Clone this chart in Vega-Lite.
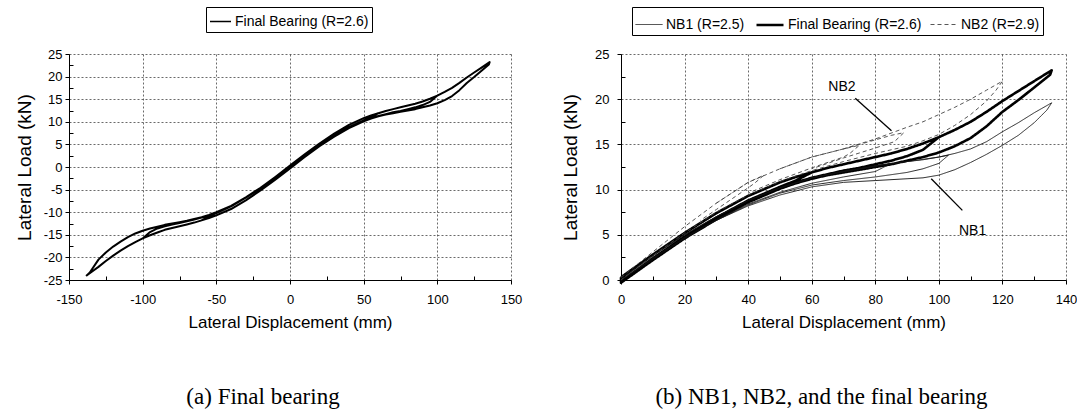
{
"$schema":"https://vega.github.io/schema/vega-lite/v6.json",
"autosize":{"type":"pad"},
"padding":{"left":15,"top":6,"right":0,"bottom":0},
"background":"#ffffff",
"bounds":"flush",
"spacing":110,
"datasets":{
"fb":[
{"x":0,"y":0.3},{"x":10,"y":2.8},{"x":20,"y":5.2},{"x":30,"y":7.4},{"x":40,"y":9.3},{"x":50,"y":10.8},{"x":55,"y":11.4},{"x":60,"y":11.9},
{"x":55,"y":11.0},{"x":50,"y":10.3},{"x":40,"y":8.8},{"x":30,"y":6.9},{"x":20,"y":4.8},{"x":10,"y":2.4},{"x":0,"y":-0.2},
{"x":-10,"y":-2.8},{"x":-20,"y":-5.2},{"x":-30,"y":-7.4},{"x":-40,"y":-9.3},{"x":-50,"y":-10.7},{"x":-55,"y":-11.3},{"x":-60,"y":-11.8},
{"x":-55,"y":-10.9},{"x":-50,"y":-10.2},{"x":-40,"y":-8.7},{"x":-30,"y":-6.8},{"x":-20,"y":-4.7},{"x":-10,"y":-2.3},{"x":0,"y":0.2},
{"x":10,"y":2.8},{"x":20,"y":5.2},{"x":30,"y":7.4},{"x":40,"y":9.3},{"x":50,"y":10.8},{"x":55,"y":11.4},{"x":60,"y":11.9},{"x":65,"y":12.4},{"x":70,"y":12.8},{"x":75,"y":13.2},{"x":80,"y":13.6},{"x":85,"y":14.0},{"x":90,"y":14.5},{"x":95,"y":15.1},{"x":100,"y":15.8},
{"x":95,"y":14.4},{"x":90,"y":13.7},{"x":85,"y":13.2},{"x":80,"y":12.8},{"x":75,"y":12.4},{"x":70,"y":12.1},{"x":65,"y":11.7},{"x":60,"y":11.3},{"x":55,"y":10.8},{"x":50,"y":10.2},{"x":40,"y":8.7},{"x":30,"y":6.8},{"x":20,"y":4.7},{"x":10,"y":2.3},{"x":0,"y":-0.2},
{"x":-10,"y":-2.8},{"x":-20,"y":-5.2},{"x":-30,"y":-7.4},{"x":-40,"y":-9.3},{"x":-50,"y":-10.7},{"x":-55,"y":-11.3},{"x":-60,"y":-11.8},{"x":-65,"y":-12.3},{"x":-70,"y":-12.7},{"x":-75,"y":-13.1},{"x":-80,"y":-13.5},{"x":-85,"y":-13.9},{"x":-90,"y":-14.5},{"x":-95,"y":-15.1},{"x":-100,"y":-15.8},
{"x":-95,"y":-14.4},{"x":-90,"y":-13.6},{"x":-85,"y":-13.1},{"x":-80,"y":-12.7},{"x":-75,"y":-12.4},{"x":-70,"y":-12.0},{"x":-65,"y":-11.6},{"x":-60,"y":-11.2},{"x":-55,"y":-10.7},{"x":-50,"y":-10.1},{"x":-40,"y":-8.7},{"x":-30,"y":-6.8},{"x":-20,"y":-4.7},{"x":-10,"y":-2.3},{"x":0,"y":0.2},
{"x":10,"y":2.8},{"x":20,"y":5.2},{"x":30,"y":7.4},{"x":40,"y":9.3},{"x":50,"y":10.8},{"x":55,"y":11.4},{"x":60,"y":11.9},{"x":65,"y":12.4},{"x":70,"y":12.8},{"x":75,"y":13.2},{"x":80,"y":13.6},{"x":85,"y":14.0},{"x":90,"y":14.5},{"x":95,"y":15.1},{"x":100,"y":15.8},{"x":105,"y":16.6},{"x":110,"y":17.5},{"x":115,"y":18.6},{"x":120,"y":19.8},{"x":125,"y":20.9},{"x":130,"y":22.0},{"x":135.5,"y":23.2},
{"x":135,"y":22.7},{"x":130,"y":21.3},{"x":125,"y":19.9},{"x":120,"y":18.6},{"x":115,"y":17.0},{"x":110,"y":15.7},{"x":105,"y":14.8},{"x":100,"y":14.1},{"x":95,"y":13.6},{"x":90,"y":13.2},{"x":85,"y":12.8},{"x":80,"y":12.5},{"x":75,"y":12.2},{"x":70,"y":11.9},{"x":65,"y":11.6},{"x":60,"y":11.2},{"x":55,"y":10.7},{"x":50,"y":10.1},{"x":40,"y":8.6},{"x":30,"y":6.7},{"x":20,"y":4.6},{"x":10,"y":2.2},{"x":0,"y":-0.3},
{"x":-10,"y":-2.8},{"x":-20,"y":-5.2},{"x":-30,"y":-7.4},{"x":-40,"y":-9.3},{"x":-50,"y":-10.7},{"x":-55,"y":-11.3},{"x":-60,"y":-11.8},{"x":-65,"y":-12.3},{"x":-70,"y":-12.7},{"x":-75,"y":-13.1},{"x":-80,"y":-13.5},{"x":-85,"y":-13.9},{"x":-90,"y":-14.5},{"x":-95,"y":-15.1},{"x":-100,"y":-15.8},{"x":-105,"y":-16.6},{"x":-110,"y":-17.5},{"x":-115,"y":-18.5},{"x":-120,"y":-19.6},{"x":-125,"y":-20.8},{"x":-130,"y":-22.1},{"x":-135,"y":-23.3},{"x":-138,"y":-24.0},
{"x":-136,"y":-23.4},{"x":-130,"y":-20.5},{"x":-125,"y":-18.9},{"x":-120,"y":-17.6},{"x":-115,"y":-16.5},{"x":-110,"y":-15.5},{"x":-105,"y":-14.7},{"x":-100,"y":-14.1},{"x":-95,"y":-13.6},{"x":-90,"y":-13.2},{"x":-85,"y":-12.8},{"x":-80,"y":-12.5},{"x":-75,"y":-12.2},{"x":-70,"y":-11.9},{"x":-65,"y":-11.5},{"x":-60,"y":-11.1},{"x":-55,"y":-10.6},{"x":-50,"y":-10.0},{"x":-40,"y":-8.6},{"x":-30,"y":-6.7},{"x":-20,"y":-4.6},{"x":-10,"y":-2.2},{"x":0,"y":0.3}
],
"nb":[
{"s":"NB1","c":1,"x":0,"y":0.2},{"s":"NB1","c":1,"x":10,"y":2.7},{"s":"NB1","c":1,"x":20,"y":5.0},{"s":"NB1","c":1,"x":30,"y":7.0},{"s":"NB1","c":1,"x":40,"y":8.8},{"s":"NB1","c":1,"x":50,"y":10.2},{"s":"NB1","c":1,"x":60,"y":11.3},{"s":"NB1","c":1,"x":70,"y":12.0},{"s":"NB1","c":1,"x":80,"y":12.6},{"s":"NB1","c":1,"x":85,"y":12.9},
{"s":"NB1","c":1,"x":80,"y":12.0},{"s":"NB1","c":1,"x":70,"y":11.4},{"s":"NB1","c":1,"x":60,"y":10.7},{"s":"NB1","c":1,"x":50,"y":9.7},{"s":"NB1","c":1,"x":40,"y":8.4},{"s":"NB1","c":1,"x":30,"y":6.7},{"s":"NB1","c":1,"x":20,"y":4.7},{"s":"NB1","c":1,"x":10,"y":2.4},{"s":"NB1","c":1,"x":0,"y":0},
{"s":"NB1","c":2,"x":60,"y":11.3},{"s":"NB1","c":2,"x":70,"y":12.0},{"s":"NB1","c":2,"x":80,"y":12.6},{"s":"NB1","c":2,"x":90,"y":13.1},{"s":"NB1","c":2,"x":95,"y":13.3},{"s":"NB1","c":2,"x":100,"y":13.6},{"s":"NB1","c":2,"x":103,"y":13.8},
{"s":"NB1","c":2,"x":100,"y":12.9},{"s":"NB1","c":2,"x":95,"y":12.3},{"s":"NB1","c":2,"x":90,"y":11.9},{"s":"NB1","c":2,"x":80,"y":11.4},{"s":"NB1","c":2,"x":70,"y":11.0},{"s":"NB1","c":2,"x":60,"y":10.5},{"s":"NB1","c":2,"x":50,"y":9.6},{"s":"NB1","c":2,"x":40,"y":8.3},{"s":"NB1","c":2,"x":30,"y":6.6},
{"s":"NB1","c":3,"x":0,"y":0.2},{"s":"NB1","c":3,"x":10,"y":2.7},{"s":"NB1","c":3,"x":20,"y":5.0},{"s":"NB1","c":3,"x":30,"y":7.0},{"s":"NB1","c":3,"x":40,"y":8.8},{"s":"NB1","c":3,"x":50,"y":10.2},{"s":"NB1","c":3,"x":60,"y":11.3},{"s":"NB1","c":3,"x":70,"y":12.0},{"s":"NB1","c":3,"x":80,"y":12.6},{"s":"NB1","c":3,"x":90,"y":13.1},{"s":"NB1","c":3,"x":100,"y":13.6},{"s":"NB1","c":3,"x":105,"y":14.0},{"s":"NB1","c":3,"x":110,"y":14.5},{"s":"NB1","c":3,"x":115,"y":15.3},{"s":"NB1","c":3,"x":120,"y":16.4},{"s":"NB1","c":3,"x":125,"y":17.4},{"s":"NB1","c":3,"x":130,"y":18.5},{"s":"NB1","c":3,"x":135.5,"y":19.6},
{"s":"NB1","c":3,"x":134,"y":18.8},{"s":"NB1","c":3,"x":130,"y":17.4},{"s":"NB1","c":3,"x":125,"y":16.0},{"s":"NB1","c":3,"x":120,"y":14.9},{"s":"NB1","c":3,"x":115,"y":13.9},{"s":"NB1","c":3,"x":110,"y":13.0},{"s":"NB1","c":3,"x":105,"y":12.2},{"s":"NB1","c":3,"x":100,"y":11.6},{"s":"NB1","c":3,"x":95,"y":11.3},{"s":"NB1","c":3,"x":90,"y":11.2},{"s":"NB1","c":3,"x":80,"y":11.0},{"s":"NB1","c":3,"x":70,"y":10.8},{"s":"NB1","c":3,"x":60,"y":10.3},{"s":"NB1","c":3,"x":50,"y":9.4},{"s":"NB1","c":3,"x":40,"y":8.2},{"s":"NB1","c":3,"x":30,"y":6.6},{"s":"NB1","c":3,"x":20,"y":4.6},{"s":"NB1","c":3,"x":10,"y":2.3},{"s":"NB1","c":3,"x":0,"y":0},
{"s":"NB2","c":4,"x":30,"y":8.5},{"s":"NB2","c":4,"x":40,"y":10.8},{"s":"NB2","c":4,"x":45,"y":11.6},
{"s":"NB2","c":4,"x":42,"y":10.7},{"s":"NB2","c":4,"x":40,"y":10.2},{"s":"NB2","c":4,"x":30,"y":7.8},{"s":"NB2","c":4,"x":25,"y":6.6},
{"s":"NB2","c":5,"x":50,"y":12.3},{"s":"NB2","c":5,"x":60,"y":13.6},{"s":"NB2","c":5,"x":70,"y":14.5},{"s":"NB2","c":5,"x":75,"y":14.9},
{"s":"NB2","c":5,"x":72,"y":14.0},{"s":"NB2","c":5,"x":70,"y":13.6},{"s":"NB2","c":5,"x":60,"y":12.4},{"s":"NB2","c":5,"x":50,"y":11.1},{"s":"NB2","c":5,"x":40,"y":9.6},
{"s":"NB2","c":6,"x":70,"y":14.5},{"s":"NB2","c":6,"x":80,"y":15.5},{"s":"NB2","c":6,"x":85,"y":16.0},{"s":"NB2","c":6,"x":89,"y":16.3},
{"s":"NB2","c":6,"x":86,"y":15.3},{"s":"NB2","c":6,"x":80,"y":14.6},{"s":"NB2","c":6,"x":70,"y":13.5},{"s":"NB2","c":6,"x":60,"y":12.3},
{"s":"NB2","c":7,"x":0,"y":0.3},{"s":"NB2","c":7,"x":10,"y":3.1},{"s":"NB2","c":7,"x":20,"y":5.9},{"s":"NB2","c":7,"x":30,"y":8.5},{"s":"NB2","c":7,"x":40,"y":10.8},{"s":"NB2","c":7,"x":50,"y":12.3},{"s":"NB2","c":7,"x":60,"y":13.6},{"s":"NB2","c":7,"x":70,"y":14.5},{"s":"NB2","c":7,"x":80,"y":15.6},{"s":"NB2","c":7,"x":90,"y":16.9},{"s":"NB2","c":7,"x":95,"y":17.5},{"s":"NB2","c":7,"x":100,"y":18.3},{"s":"NB2","c":7,"x":105,"y":19.1},{"s":"NB2","c":7,"x":110,"y":20.0},{"s":"NB2","c":7,"x":115,"y":21.0},{"s":"NB2","c":7,"x":120,"y":22.0},
{"s":"NB2","c":7,"x":118,"y":21.0},{"s":"NB2","c":7,"x":115,"y":19.8},{"s":"NB2","c":7,"x":110,"y":18.3},{"s":"NB2","c":7,"x":105,"y":17.1},{"s":"NB2","c":7,"x":100,"y":16.1},{"s":"NB2","c":7,"x":95,"y":15.4},{"s":"NB2","c":7,"x":90,"y":14.8},{"s":"NB2","c":7,"x":80,"y":14.0},{"s":"NB2","c":7,"x":70,"y":13.1},{"s":"NB2","c":7,"x":60,"y":12.1},{"s":"NB2","c":7,"x":50,"y":10.9},{"s":"NB2","c":7,"x":40,"y":9.4},{"s":"NB2","c":7,"x":30,"y":7.5},{"s":"NB2","c":7,"x":20,"y":5.2},{"s":"NB2","c":7,"x":10,"y":2.7},{"s":"NB2","c":7,"x":0,"y":0}
],
"notes":[
{"label":"NB2","tx":69.5,"ty":21.4,"x1":73.7,"y1":20.1,"x2":85.1,"y2":16.5},
{"label":"NB1","tx":110.6,"ty":5.4,"x1":107.4,"y1":7.7,"x2":97.6,"y2":11.2}
]
},
"hconcat":[
{
"width":442,"height":226,
"title":{"text":"(a) Final bearing","dx":-27},
"layer":[
{
"data":{"name":"fb"},
"mark":{"type":"line","strokeWidth":2,"strokeJoin":"round"},
"encoding":{
"x":{"field":"x","type":"quantitative","scale":{"domain":[-150,150],"nice":false},"axis":{"values":[-150,-100,-50,0,50,100,150],"title":"Lateral Displacement (mm)","grid":true,"labelExpr":"'' + datum.value"}},
"y":{"field":"y","type":"quantitative","scale":{"domain":[-25,25],"nice":false},"axis":{"values":[-25,-20,-15,-10,-5,0,5,10,15,20,25],"title":"Lateral Load (kN)","grid":true,"labelPadding":3,"titlePadding":9,"labelExpr":"'' + datum.value"}},
"order":{"value":null},
"color":{"datum":"FB","type":"nominal","scale":{"domain":["FB"],"range":["#000000"]},"legend":{"title":null,"legendX":137,"legendY":-47,"symbolSize":441,"symbolStrokeWidth":1.5,"labelExpr":"'Final Bearing (R=2.6)'"}}
}
},
{
"data":{"name":"notes"},
"mark":{"type":"point","opacity":0},
"encoding":{
"x":{"field":"x1","type":"quantitative","axis":{"orient":"bottom","values":[-125,-75,-25,25,75,125],"labels":false,"domain":false,"grid":false,"title":null,"tickSize":-4}},
"y":{"field":"y1","type":"quantitative","axis":{"orient":"left","values":[-22.5,-17.5,-12.5,-7.5,-2.5,2.5,7.5,12.5,17.5,22.5],"labels":false,"domain":false,"grid":false,"title":null,"tickSize":-4}}
}
}
],
"resolve":{"axis":{"x":"independent","y":"independent"}}
},
{
"width":445,"height":226,
"title":{"text":"(b) NB1, NB2, and the final bearing","dx":-22},
"layer":[
{
"encoding":{
"x":{"field":"x","type":"quantitative","scale":{"domain":[0,140],"nice":false},"axis":{"values":[0,20,40,60,80,100,120,140],"title":"Lateral Displacement (mm)","grid":true}},
"y":{"field":"y","type":"quantitative","scale":{"domain":[0,25],"nice":false},"axis":{"values":[0,5,10,15,20,25],"title":"Lateral Load (kN)","grid":true,"labelPadding":8,"titlePadding":14}}
},
"layer":[
{
"data":{"name":"fb"},
"transform":[{"filter":"datum.x >= 0"},{"calculate":"'FB'","as":"s"}],
"mark":{"type":"line","strokeJoin":"round"},
"encoding":{
"order":{"value":null},
"color":{"field":"s","type":"nominal","scale":{"type":"ordinal","domain":["NB1","FB","NB2"],"range":["#111111","#000000","#444444"]},"legend":{"title":null,"legendX":11,"legendY":-47,"symbolSize":729,"labelExpr":"datum.label == 'FB' ? 'Final Bearing (R=2.6)' : datum.label == 'NB1' ? 'NB1 (R=2.5)' : 'NB2 (R=2.9)'"}},
"strokeWidth":{"field":"s","type":"nominal","scale":{"type":"ordinal","domain":["NB1","FB","NB2"],"range":[0.9,2.6,0.9]},"legend":{"title":null,"legendX":11,"legendY":-47,"symbolSize":729,"labelExpr":"datum.label == 'FB' ? 'Final Bearing (R=2.6)' : datum.label == 'NB1' ? 'NB1 (R=2.5)' : 'NB2 (R=2.9)'"}},
"strokeDash":{"field":"s","type":"nominal","scale":{"type":"ordinal","domain":["NB1","FB","NB2"],"range":[[1,0],[1,0],[4,3]]},"legend":{"title":null,"legendX":11,"legendY":-47,"symbolSize":729,"labelExpr":"datum.label == 'FB' ? 'Final Bearing (R=2.6)' : datum.label == 'NB1' ? 'NB1 (R=2.5)' : 'NB2 (R=2.9)'"}}
}
},
{
"data":{"name":"nb"},
"mark":{"type":"line","strokeJoin":"round"},
"encoding":{
"order":{"value":null},
"detail":{"field":"c","type":"nominal"},
"color":{"field":"s","type":"nominal","scale":{"type":"ordinal","domain":["NB1","FB","NB2"],"range":["#111111","#000000","#444444"]},"legend":{"title":null,"legendX":11,"legendY":-47,"symbolSize":729,"labelExpr":"datum.label == 'FB' ? 'Final Bearing (R=2.6)' : datum.label == 'NB1' ? 'NB1 (R=2.5)' : 'NB2 (R=2.9)'"}},
"strokeWidth":{"field":"s","type":"nominal","scale":{"type":"ordinal","domain":["NB1","FB","NB2"],"range":[0.9,2.6,0.9]},"legend":{"title":null,"legendX":11,"legendY":-47,"symbolSize":729,"labelExpr":"datum.label == 'FB' ? 'Final Bearing (R=2.6)' : datum.label == 'NB1' ? 'NB1 (R=2.5)' : 'NB2 (R=2.9)'"}},
"strokeDash":{"field":"s","type":"nominal","scale":{"type":"ordinal","domain":["NB1","FB","NB2"],"range":[[1,0],[1,0],[4,3]]},"legend":{"title":null,"legendX":11,"legendY":-47,"symbolSize":729,"labelExpr":"datum.label == 'FB' ? 'Final Bearing (R=2.6)' : datum.label == 'NB1' ? 'NB1 (R=2.5)' : 'NB2 (R=2.9)'"}}
}
},
{
"data":{"name":"notes"},
"mark":{"type":"rule","color":"#000","strokeWidth":1.3},
"encoding":{"x":{"field":"x1","type":"quantitative"},"y":{"field":"y1","type":"quantitative"},"x2":{"field":"x2"},"y2":{"field":"y2"}}
},
{
"data":{"name":"notes"},
"mark":{"type":"text","font":"Liberation Sans","fontSize":14,"color":"#000","align":"center","baseline":"middle"},
"encoding":{"x":{"field":"tx","type":"quantitative"},"y":{"field":"ty","type":"quantitative"},"text":{"field":"label"}}
}
]
},
{
"data":{"name":"notes"},
"mark":{"type":"point","opacity":0},
"encoding":{
"x":{"field":"x1","type":"quantitative","axis":{"orient":"bottom","values":[10,30,50,70,90,110,130],"labels":false,"domain":false,"grid":false,"title":null,"tickSize":-4}},
"y":{"field":"y1","type":"quantitative","axis":{"orient":"left","values":[2.5,7.5,12.5,17.5,22.5],"labels":false,"domain":false,"grid":false,"title":null,"tickSize":-4}}
}
}
],
"resolve":{"axis":{"x":"independent","y":"independent"}}
}
],
"resolve":{"scale":{"color":"independent","strokeWidth":"independent","strokeDash":"independent"},"legend":{"color":"independent","strokeWidth":"independent","strokeDash":"independent"}},
"config":{
"font":"Liberation Sans",
"view":{"stroke":null},
"axis":{"labelFont":"Liberation Sans","labelFontSize":13,"labelColor":"#000","labelFlush":false,"labelOverlap":false,"titleFont":"Liberation Sans","titleFontWeight":"normal","titleColor":"#000","titleFontSize":17,"domainColor":"#000","domainWidth":1,"tickColor":"#000","tickSize":4,"tickWidth":1,"gridColor":"#444","gridDash":[2,2],"gridWidth":0.8,"gridOpacity":1},
"axisX":{"labelPadding":9,"titlePadding":8},
"axisY":{"titleFontSize":19},
"legend":{"orient":"none","direction":"horizontal","strokeColor":"#000","padding":3,"symbolType":"stroke","symbolStrokeColor":"#000","labelFont":"Liberation Sans","labelFontSize":14,"labelColor":"#000","columnPadding":6,"labelOffset":3},
"title":{"font":"Liberation Serif","fontSize":23,"fontWeight":"normal","color":"#000","orient":"bottom","anchor":"middle","offset":56},
"line":{"strokeCap":"butt"}
}
}
